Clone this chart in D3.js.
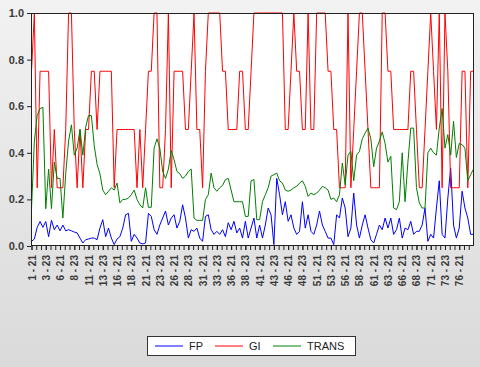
<!DOCTYPE html>
<html>
<head>
<meta charset="utf-8">
<script src="https://cdn.jsdelivr.net/npm/d3@7"></script>
<style>
  html, body { margin: 0; padding: 0; }
  body { width: 480px; height: 367px; overflow: hidden; }
  .axis text { font-family: "Liberation Sans", Arial, sans-serif; font-weight: bold; fill: #3a3a3a; }
  .axis path { display: none; }
  .axis line { stroke: #222; }
</style>
</head>
<body>
<svg id="chart" width="480" height="367"></svg>
<script>
// observation ids (cross-section) and periods
const ids = d3.range(1, 79);
const periods = ["21", "23"];

const tickLabels = ["1 - 21", "3 - 23", "6 - 21", "8 - 23", "11 - 21", "13 - 23", "16 - 21", "18 - 23",
  "21 - 21", "23 - 23", "26 - 21", "28 - 23", "31 - 21", "33 - 23", "36 - 21", "38 - 23",
  "41 - 21", "43 - 23", "46 - 21", "48 - 23", "51 - 21", "53 - 23", "56 - 21", "58 - 23",
  "61 - 21", "63 - 23", "66 - 21", "68 - 23", "71 - 21", "73 - 23", "76 - 21"];

const yTicks = [0, 0.2, 0.4, 0.6, 0.8, 1.0];

const fp = [0.02,0.03,0.08,0.105,0.08,0.105,0.04,0.11,0.07,0.09,
  0.065,0.09,0.065,0.07,0.065,0.06,0.056,0.034,0.013,0.027,
  0.03,0.034,0.034,0.027,0.077,0.113,0.04,0.077,0.034,0.006,
  0.03,0.04,0.077,0.134,0.14,0.02,0.05,0.034,0.013,0.009,
  0.013,0.14,0.127,0.07,0.05,0.09,0.12,0.15,0.09,0.12,
  0.134,0.077,0.106,0.177,0.12,0.034,0.07,0.063,0.077,0.034,
  0.02,0.127,0.134,0.07,0.05,0.063,0.05,0.07,0.04,0.1,
  0.07,0.106,0.056,0.077,0.034,0.106,0.034,0.077,0.12,0.034,
  0.09,0.034,0.09,0.163,0.134,0.006,0.29,0.22,0.134,0.19,
  0.106,0.134,0.077,0.05,0.063,0.19,0.077,0.134,0.063,0.05,
  0.09,0.15,0.09,0.063,0.034,0.034,0.006,0.134,0.12,0.206,
  0.163,0.04,0.077,0.227,0.09,0.034,0.09,0.134,0.077,0.027,
  0.013,0.05,0.09,0.07,0.12,0.077,0.12,0.05,0.07,0.12,
  0.034,0.077,0.07,0.106,0.05,0.063,0.063,0.09,0.163,0.02,
  0.05,0.034,0.163,0.28,0.05,0.034,0.206,0.335,0.09,0.034,
  0.077,0.235,0.163,0.12,0.05,0.05];

const gi = [0.75,1,0.25,0.75,0.75,0.75,0.75,0.25,0.5,0.25,
  0.25,0.25,0.5,1,1,0.5,0.25,0.5,0.25,0.5,
  0.5,0.75,0.75,0.5,0.75,0.75,0.75,0.75,0.75,0.25,
  0.5,0.5,0.5,0.5,0.5,0.5,0.5,0.25,0.5,0.25,
  0.5,0.75,0.75,1,1,0.25,0.25,0.5,1,0.25,
  0.75,0.75,0.75,0.75,0.5,0.5,0.75,1,0.5,0.5,
  0.25,0.75,1,1,1,1,1,0.75,0.75,0.5,
  0.5,0.5,0.5,0.75,0.75,0.5,0.5,0.75,1,1,
  1,1,1,1,1,1,1,1,1,0.5,
  0.5,0.75,1,0.75,0.75,0.5,0.5,1,0.5,0.5,
  1,1,1,1,0.75,0.75,0.5,0.5,0.25,0.25,
  0.25,1,0.25,0.5,0.75,1,1,0.75,0.5,0.25,
  0.25,0.25,0.25,1,1,0.75,0.75,0.5,0.5,0.5,
  0.5,0.5,0.5,0.75,0.75,0.5,0.25,0.25,0.5,0.75,
  1,0.75,0.5,1,0.25,1,0.75,0.25,0.25,0.25,
  0.25,0.75,0.75,0.25,0.75,0.75];

const trans = [0.16,0.45,0.56,0.59,0.595,0.16,0.33,0.16,0.36,0.29,
  0.29,0.12,0.31,0.45,0.52,0.39,0.42,0.5,0.39,0.51,
  0.56,0.56,0.43,0.35,0.31,0.24,0.22,0.235,0.25,0.24,
  0.27,0.185,0.2,0.2,0.206,0.22,0.24,0.2,0.177,0.163,
  0.25,0.166,0.166,0.42,0.46,0.42,0.32,0.29,0.33,0.41,
  0.37,0.32,0.31,0.29,0.3,0.32,0.33,0.12,0.11,0.11,
  0.11,0.2,0.22,0.313,0.25,0.235,0.25,0.26,0.285,0.29,
  0.24,0.19,0.19,0.19,0.19,0.127,0.127,0.28,0.285,0.113,
  0.113,0.19,0.22,0.25,0.3,0.306,0.313,0.28,0.27,0.24,
  0.235,0.24,0.25,0.256,0.27,0.28,0.256,0.213,0.227,0.22,
  0.227,0.24,0.256,0.25,0.24,0.2,0.206,0.19,0.22,0.356,
  0.263,0.39,0.406,0.28,0.39,0.406,0.46,0.485,0.506,0.46,
  0.34,0.42,0.45,0.49,0.44,0.36,0.385,0.163,0.156,0.19,
  0.4,0.19,0.36,0.506,0.506,0.25,0.185,0.163,0.163,0.4,
  0.42,0.4,0.39,0.506,0.59,0.42,0.478,0.39,0.535,0.38,
  0.44,0.435,0.42,0.28,0.306,0.33];

const seriesNames = ["FP", "GI", "TRANS"];
const seriesColors = ["#0000ff", "#ff0000", "#008000"];

// categories "id - period"
const categories = [];
ids.forEach(id => periods.forEach(p => categories.push(id + " - " + p)));

const series = [fp, gi, trans].map((vals, k) => ({
  name: seriesNames[k],
  color: seriesColors[k],
  values: vals.map((v, i) => ({ i: i, v: v }))
}));

const W = 480, H = 367;
const plot = { left: 31, top: 13, right: 474, bottom: 246 };

const svg = d3.select("#chart");

// background gradient
const defs = svg.append("defs");
const grad = defs.append("linearGradient").attr("id", "bg")
  .attr("x1", 0).attr("y1", 0).attr("x2", 0).attr("y2", 1);
grad.append("stop").attr("offset", "0%").attr("stop-color", "#f2f2f2");
grad.append("stop").attr("offset", "100%").attr("stop-color", "#dadada");
svg.append("rect").attr("width", W).attr("height", H).attr("fill", "url(#bg)");

svg.append("rect")
  .attr("x", plot.left).attr("y", plot.top)
  .attr("width", plot.right - plot.left).attr("height", plot.bottom - plot.top)
  .attr("fill", "#fff");

const x = d3.scaleLinear()
  .domain([0, categories.length - 1])
  .range([plot.left + 0.5, plot.right - 0.5]);

const y = d3.scaleLinear()
  .domain([0, 1])
  .range([plot.bottom, plot.top]);

// lines
const line = d3.line().x(d => x(d.i)).y(d => y(d.v));
svg.append("g").selectAll("path")
  .data(series)
  .join("path")
  .attr("d", d => line(d.values))
  .attr("fill", "none")
  .attr("stroke", d => d.color)
  .attr("stroke-width", 1);

// frame
svg.append("rect")
  .attr("x", plot.left + 0.5).attr("y", plot.top + 0.5)
  .attr("width", plot.right - plot.left - 1).attr("height", plot.bottom - plot.top - 1)
  .attr("fill", "none").attr("stroke", "#222").attr("stroke-width", 1);

// y axis
const yAxis = d3.axisLeft(y).tickValues(yTicks).tickFormat(d3.format(".1f"))
  .tickSize(4).tickPadding(3);
svg.append("g").attr("class", "axis")
  .attr("transform", `translate(${plot.left},0)`)
  .call(yAxis)
  .selectAll("text").style("font-size", "11px");

// x axis minor ticks (3 per label interval)
const minor = d3.range(0, categories.length - 1, 5 / 3);
svg.append("g").attr("class", "axis")
  .attr("transform", `translate(0,${plot.bottom})`)
  .call(d3.axisBottom(x).tickValues(minor).tickFormat("").tickSize(4));

// x axis labels every 5 observations
const labelIdx = tickLabels.map(t => categories.indexOf(t));
const xAxis = d3.axisBottom(x).tickValues(labelIdx)
  .tickFormat(d => categories[d]).tickSize(4);
svg.append("g").attr("class", "axis")
  .attr("transform", `translate(0,${plot.bottom})`)
  .call(xAxis)
  .selectAll("text")
  .style("font-size", "10px")
  .attr("transform", "rotate(-90)")
  .attr("text-anchor", "end")
  .attr("x", -9)
  .attr("y", 0)
  .attr("dy", "0.35em");

// legend
const legend = svg.append("g");
legend.append("rect")
  .attr("x", 147.5).attr("y", 336.5).attr("width", 208).attr("height", 19)
  .attr("fill", "#fff").attr("stroke", "#333").attr("stroke-width", 1);

const legendX = [155, 215, 273];
const items = legend.selectAll("g.item")
  .data(series)
  .join("g")
  .attr("class", "item")
  .attr("transform", (d, k) => `translate(${legendX[k]},346)`);
items.append("line")
  .attr("x1", 0).attr("x2", 28).attr("y1", 0).attr("y2", 0)
  .attr("stroke", d => d.color).attr("stroke-width", 1);
items.append("text")
  .attr("x", 34).attr("y", 0).attr("dy", "0.35em")
  .style("font-family", "Liberation Sans, Arial, sans-serif")
  .style("font-size", "11px")
  .style("fill", "#222")
  .text(d => d.name);
</script>
</body>
</html>
